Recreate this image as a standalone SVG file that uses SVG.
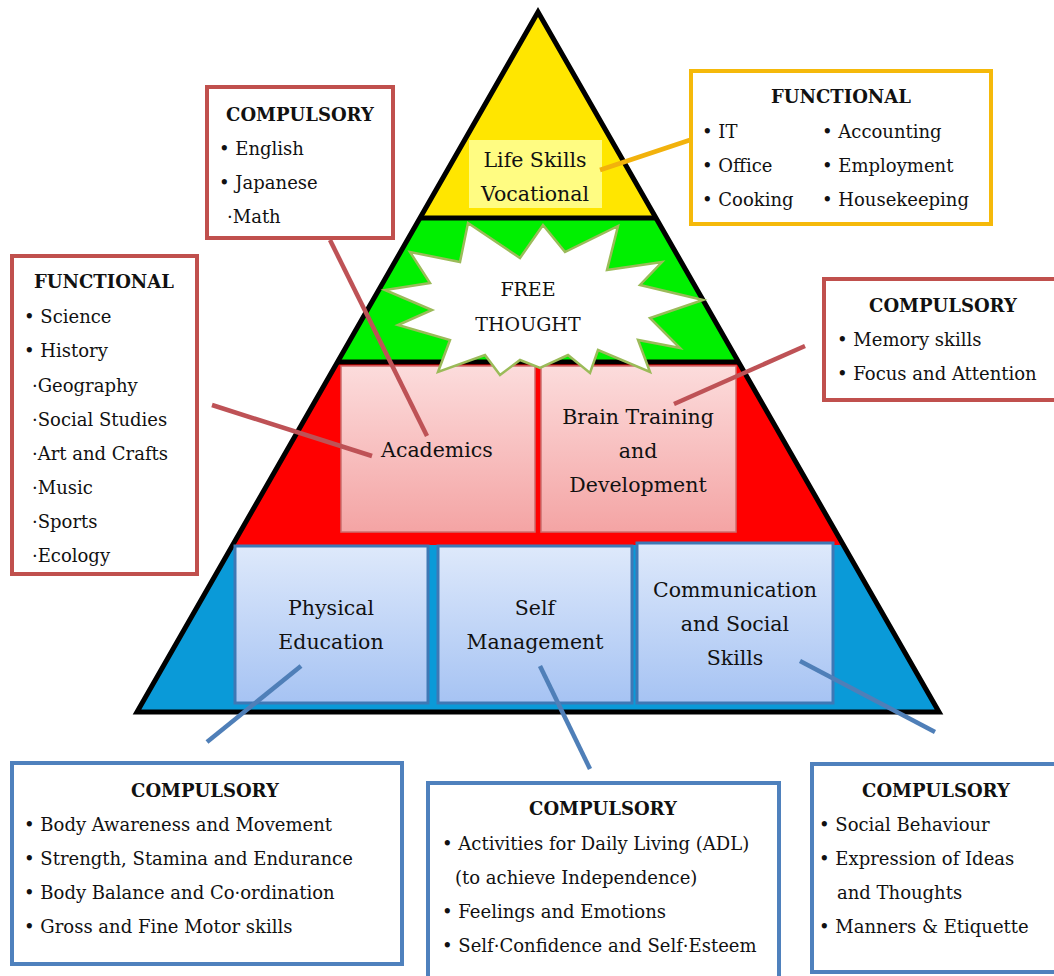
<svg xmlns="http://www.w3.org/2000/svg" width="1054" height="976" viewBox="0 0 1054 976">
<style>
text{font-family:"DejaVu Serif","Liberation Serif",serif;fill:#111}
.lbl{font-size:20.5px;text-anchor:middle}
.hd{font-size:18px;font-weight:bold;text-anchor:middle}
.it{font-size:18px}
.rbox{fill:#fff;stroke:#C0504D;stroke-width:4}
.ybox{fill:#fff;stroke:#F5B90A;stroke-width:4}
.bbox{fill:#fff;stroke:#4F81BD;stroke-width:4}
.pink{fill:url(#pg);stroke:#CC6E6E;stroke-width:1.5}
.blue{fill:url(#bg);stroke:#3E78B5;stroke-width:3}
.cr{stroke:#BE5256;stroke-width:4.5;fill:none}
.cy{stroke:#F2B20C;stroke-width:4.5;fill:none}
.cb{stroke:#4F7FB8;stroke-width:4.5;fill:none}
</style>
<defs>
<linearGradient id="pg" x1="0" y1="0" x2="0" y2="1"><stop offset="0" stop-color="#FCDCDC"/><stop offset="1" stop-color="#F4A4A4"/></linearGradient>
<linearGradient id="bg" x1="0" y1="0" x2="0" y2="1"><stop offset="0" stop-color="#DEE9FB"/><stop offset="1" stop-color="#A6C3F3"/></linearGradient>
</defs>
<rect width="1054" height="976" fill="#fff"/>
<g id="pyramid">
<polygon points="538,12 656,218 420,218" fill="#FFE600"/>
<polygon points="420,218 656,218 738.5,362 337.5,362" fill="#00F000"/>
<polygon points="337.5,362 738.5,362 843.4,545 232.6,545" fill="#FF0000"/>
<polygon points="232.6,545 843.4,545 939,712 137,712" fill="#0A9AD8"/>
<g stroke="#000" stroke-width="5" fill="none">
<line x1="420" y1="218" x2="656" y2="218"/>
<line x1="337.5" y1="362" x2="738.5" y2="362"/>
<polygon points="538,12 939,712 137,712" stroke-linejoin="miter"/>
</g>
</g>
<g id="life-skills">
<rect x="469" y="140" width="133" height="68" fill="#FFFF99" opacity="0.85"/>
<text class="lbl" x="535" y="167">Life Skills</text>
<text class="lbl" x="535" y="201">Vocational</text>
</g>
<g id="academics">
<rect class="pink" x="341" y="366" width="194" height="166"/>
<text class="lbl" x="437" y="457">Academics</text>
</g>
<g id="brain-training">
<rect class="pink" x="541" y="366" width="195" height="166"/>
<text class="lbl" x="638" y="424">Brain Training</text>
<text class="lbl" x="638" y="458">and</text>
<text class="lbl" x="638" y="492">Development</text>
</g>
<g id="free-thought">
<polygon points="468,223 520,258 543,225 565,252 618,226 607,270 662,262 640,285 703,300 650,318 680,348 638,340 650,372 598,350 590,373 568,355 540,368 520,360 500,375 485,355 438,372 450,340 398,325 432,310 385,290 430,283 410,252 460,262" fill="#fff" stroke="#9BBB59" stroke-width="2.5" stroke-linejoin="miter"/>
<text class="lbl" style="font-size:19px" x="528" y="296">FREE</text>
<text class="lbl" style="font-size:19px" x="528" y="331">THOUGHT</text>
</g>
<g id="physical-education">
<rect class="blue" x="235" y="546" width="193" height="157"/>
<text class="lbl" x="331" y="615">Physical</text>
<text class="lbl" x="331" y="649">Education</text>
</g>
<g id="self-management">
<rect class="blue" x="438" y="546" width="194" height="157"/>
<text class="lbl" x="535" y="615">Self</text>
<text class="lbl" x="535" y="649">Management</text>
</g>
<g id="communication">
<rect class="blue" x="637" y="543" width="196" height="160"/>
<text class="lbl" x="735" y="597">Communication</text>
<text class="lbl" x="735" y="631">and Social</text>
<text class="lbl" x="735" y="665">Skills</text>
</g>
<g id="connectors">
<line class="cr" x1="330" y1="240" x2="427" y2="436"/>
<line class="cr" x1="212" y1="405" x2="372" y2="456"/>
<line class="cr" x1="674" y1="404" x2="805" y2="346"/>
<line class="cy" x1="600" y1="170" x2="690" y2="140"/>
<line class="cb" x1="301" y1="666" x2="207" y2="742"/>
<line class="cb" x1="540" y1="666" x2="590" y2="769"/>
<line class="cb" x1="800" y1="661" x2="935" y2="732"/>
</g>
<g id="box-academics-compulsory">
<rect class="rbox" x="207" y="87" width="186" height="151"/>
<text class="hd" x="300" y="121">COMPULSORY</text>
<text class="it" x="219" y="155">• English</text>
<text class="it" x="219" y="189">• Japanese</text>
<text class="it" x="227" y="223">·Math</text>
</g>
<g id="box-academics-functional">
<rect class="rbox" x="12" y="256" width="185" height="318"/>
<text class="hd" x="104" y="288">FUNCTIONAL</text>
<text class="it" x="24" y="323">• Science</text>
<text class="it" x="24" y="357">• History</text>
<text class="it" x="32" y="392">·Geography</text>
<text class="it" x="32" y="426">·Social Studies</text>
<text class="it" x="32" y="460">·Art and Crafts</text>
<text class="it" x="32" y="494">·Music</text>
<text class="it" x="32" y="528">·Sports</text>
<text class="it" x="32" y="562">·Ecology</text>
</g>
<g id="box-life-functional">
<rect class="ybox" x="691" y="71" width="300" height="153"/>
<text class="hd" x="841" y="103">FUNCTIONAL</text>
<text class="it" x="702" y="138">• IT</text>
<text class="it" x="702" y="172">• Office</text>
<text class="it" x="702" y="206">• Cooking</text>
<text class="it" x="822" y="138">• Accounting</text>
<text class="it" x="822" y="172">• Employment</text>
<text class="it" x="822" y="206">• Housekeeping</text>
</g>
<g id="box-brain-compulsory">
<rect class="rbox" x="824" y="279" width="240" height="121"/>
<text class="hd" x="943" y="312">COMPULSORY</text>
<text class="it" x="837" y="346">• Memory skills</text>
<text class="it" x="837" y="380">• Focus and Attention</text>
</g>
<g id="box-physical-compulsory">
<rect class="bbox" x="12" y="763" width="390" height="201"/>
<text class="hd" x="205" y="797">COMPULSORY</text>
<text class="it" x="24" y="831">• Body Awareness and Movement</text>
<text class="it" x="24" y="865">• Strength, Stamina and Endurance</text>
<text class="it" x="24" y="899">• Body Balance and Co·ordination</text>
<text class="it" x="24" y="933">• Gross and Fine Motor skills</text>
</g>
<g id="box-self-compulsory">
<rect class="bbox" x="428" y="783" width="351" height="200"/>
<text class="hd" x="603" y="815">COMPULSORY</text>
<text class="it" x="442" y="850">• Activities for Daily Living (ADL)</text>
<text class="it" x="455" y="884">(to achieve Independence)</text>
<text class="it" x="442" y="918">• Feelings and Emotions</text>
<text class="it" x="442" y="952">• Self·Confidence and Self·Esteem</text>
</g>
<g id="box-communication-compulsory">
<rect class="bbox" x="812" y="764" width="250" height="208"/>
<text class="hd" x="936" y="797">COMPULSORY</text>
<text class="it" x="819" y="831">• Social Behaviour</text>
<text class="it" x="819" y="865">• Expression of Ideas</text>
<text class="it" x="837" y="899">and Thoughts</text>
<text class="it" x="819" y="933">• Manners &amp; Etiquette</text>
</g>
</svg>
